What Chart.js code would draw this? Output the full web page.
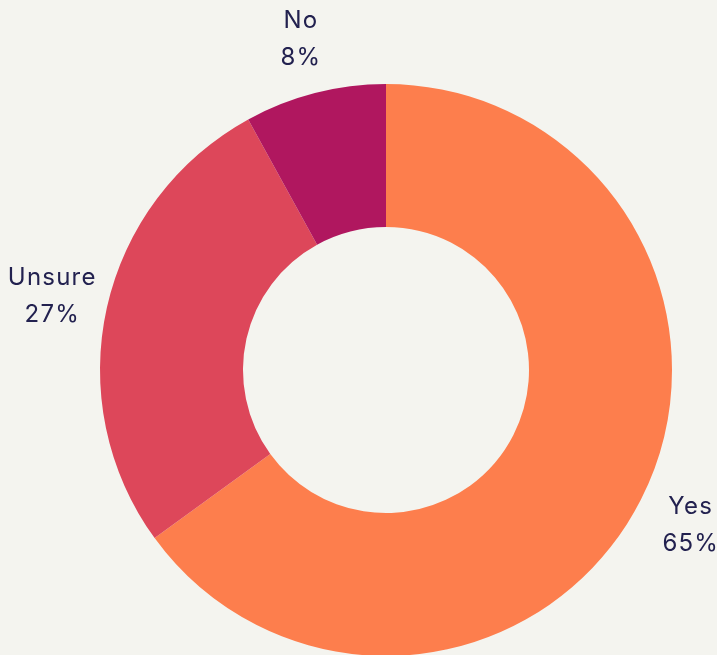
<!DOCTYPE html>
<html>
<head>
<meta charset="utf-8">
<script src="https://cdn.jsdelivr.net/npm/chart.js@4/dist/chart.umd.min.js"></script>
<style>
  html, body { margin: 0; padding: 0; background: #F4F4EF; }
  #wrap { width: 717px; height: 655px; position: relative; }
</style>
</head>
<body>
<div id="wrap"><canvas id="c"></canvas></div>
<script>
const categories = ["Yes", "Unsure", "No"];
const values = [65, 27, 8];
const valueLabels = ["65%", "27%", "8%"];
const colors = ["#FD7E4D", "#DD475A", "#B0175F"];

const outsideLabels = {
  id: 'outsideLabels',
  afterDatasetsDraw(chart) {
    const ctx = chart.ctx;
    const meta = chart.getDatasetMeta(0);
    ctx.save();
    ctx.fillStyle = '#22214F';
    ctx.font = '24px Inter, sans-serif';
    if ('letterSpacing' in ctx) ctx.letterSpacing = '1.2px';
    ctx.textAlign = 'center';
    ctx.textBaseline = 'middle';
    meta.data.forEach((arc, i) => {
      const mid = (arc.startAngle + arc.endAngle) / 2;
      const r = arc.outerRadius + 56;
      const x = arc.x + Math.cos(mid) * r;
      const y = arc.y + Math.sin(mid) * r;
      ctx.fillText(categories[i], x, y - 18);
      ctx.fillText(valueLabels[i], x, y + 19);
    });
    ctx.restore();
  }
};

new Chart(document.getElementById('c'), {
  type: 'doughnut',
  data: {
    labels: categories,
    datasets: [{
      data: values,
      backgroundColor: colors,
      borderWidth: 0
    }]
  },
  options: {
    responsive: true,
    maintainAspectRatio: false,
    animation: false,
    cutout: '50%',
    radius: 286,
    layout: { padding: { left: 55, right: 0, top: 85, bottom: 0 } },
    plugins: { legend: { display: false }, tooltip: { enabled: false } }
  },
  plugins: [outsideLabels]
});
</script>
</body>
</html>
